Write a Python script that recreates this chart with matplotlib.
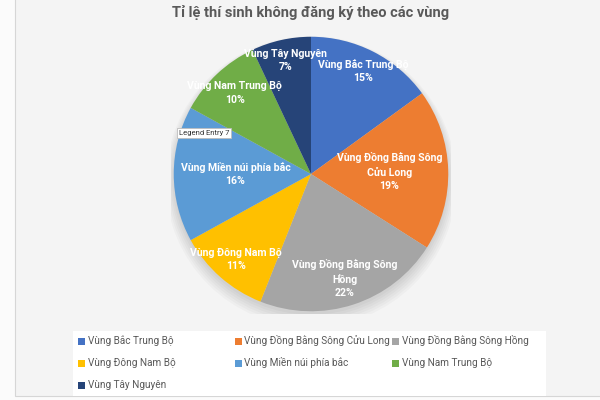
import matplotlib.pyplot as plt
import numpy as np
from matplotlib.patches import Rectangle, Circle

plt.rcParams['font.family'] = ['Roboto', 'DejaVu Sans']

# Data
regions = ["Vùng Bắc Trung Bộ", "Vùng Đồng Bằng Sông Cửu Long", "Vùng Đồng Bằng Sông Hồng",
           "Vùng Đông Nam Bộ", "Vùng Miền núi phía bắc", "Vùng Nam Trung Bộ", "Vùng Tây Nguyên"]
slice_labels = ["Vùng Bắc Trung Bộ", "Vùng Đồng Bằng Sông\nCửu Long", "Vùng Đồng Bằng Sông\nHồng",
                "Vùng Đông Nam Bộ", "Vùng Miền núi phía bắc", "Vùng Nam Trung Bộ", "Vùng Tây Nguyên"]
shares = [15, 19, 22, 11, 16, 10, 7]
colors = ["#4472C4", "#ED7D31", "#A5A5A5", "#FFC000", "#5B9BD5", "#70AD47", "#264478"]
# how far from the centre each data label sits (fraction of radius)
label_dist = [0.84, 0.57, 0.80, 0.83, 0.55, 0.81, 0.85]

fig = plt.figure(figsize=(6, 4), dpi=100, facecolor="#fbfbfb")

# chart area background
fig.patches.append(Rectangle((15 / 600, 4 / 400), 1, 1, transform=fig.transFigure,
                             facecolor="#f4f4f4", edgecolor="#d6d6d6", linewidth=0.8, zorder=-2))

fig.text(311 / 600, 1 - 12 / 400, "Tỉ lệ thí sinh không đăng ký theo các vùng",
         ha="center", va="center", fontsize=10.5, fontweight="bold", color="#595959")

# pie
ax = fig.add_axes([171 / 600, 86 / 400, 280 / 600, 280 / 400])
for k in range(6):
    ax.add_patch(Circle((0, -0.025 - k * 0.006), 1 + k * 0.012, color="black",
                        alpha=0.025, zorder=0, linewidth=0))
wedges, _ = ax.pie(shares, colors=colors, startangle=90, counterclock=False, radius=1,
                   wedgeprops=dict(linewidth=0, zorder=2))
for w, lab, val, d in zip(wedges, slice_labels, shares, label_dist):
    mid = np.deg2rad((w.theta1 + w.theta2) / 2)
    ax.text(d * np.cos(mid), d * np.sin(mid), f"{lab}\n{val}%", ha="center", va="center",
            fontsize=7.6, fontweight="bold", color="white", linespacing=1.4, zorder=3)
ax.set_xlim(-1.02, 1.02)
ax.set_ylim(-1.02, 1.02)
ax.axis("off")

# tooltip
fig.text(204 / 600, 1 - 133 / 400, "Legend Entry 7", ha="center", va="center", fontsize=5.5,
         color="#333333",
         bbox=dict(boxstyle="square,pad=0.25", facecolor="white", edgecolor="#bdbdbd", linewidth=0.6))

# legend (3 equal columns, Excel style)
fig.patches.append(Rectangle((73 / 600, 4 / 400), 473 / 600, 65 / 400, transform=fig.transFigure,
                             facecolor="white", edgecolor="none", zorder=-1))
for i, (name, c) in enumerate(zip(regions, colors)):
    row, col = divmod(i, 3)
    x = 78 / 600 + col * 157 / 600
    y = 1 - (341 + row * 22) / 400
    fig.patches.append(Rectangle((x, y - 3.5 / 400), 7 / 600, 7 / 400, transform=fig.transFigure,
                                 facecolor=c, edgecolor="none"))
    fig.text(x + 9.5 / 600, y, name, ha="left", va="center", fontsize=7.2, color="#595959")

fig.savefig("out.png", dpi=100, facecolor=fig.get_facecolor())
